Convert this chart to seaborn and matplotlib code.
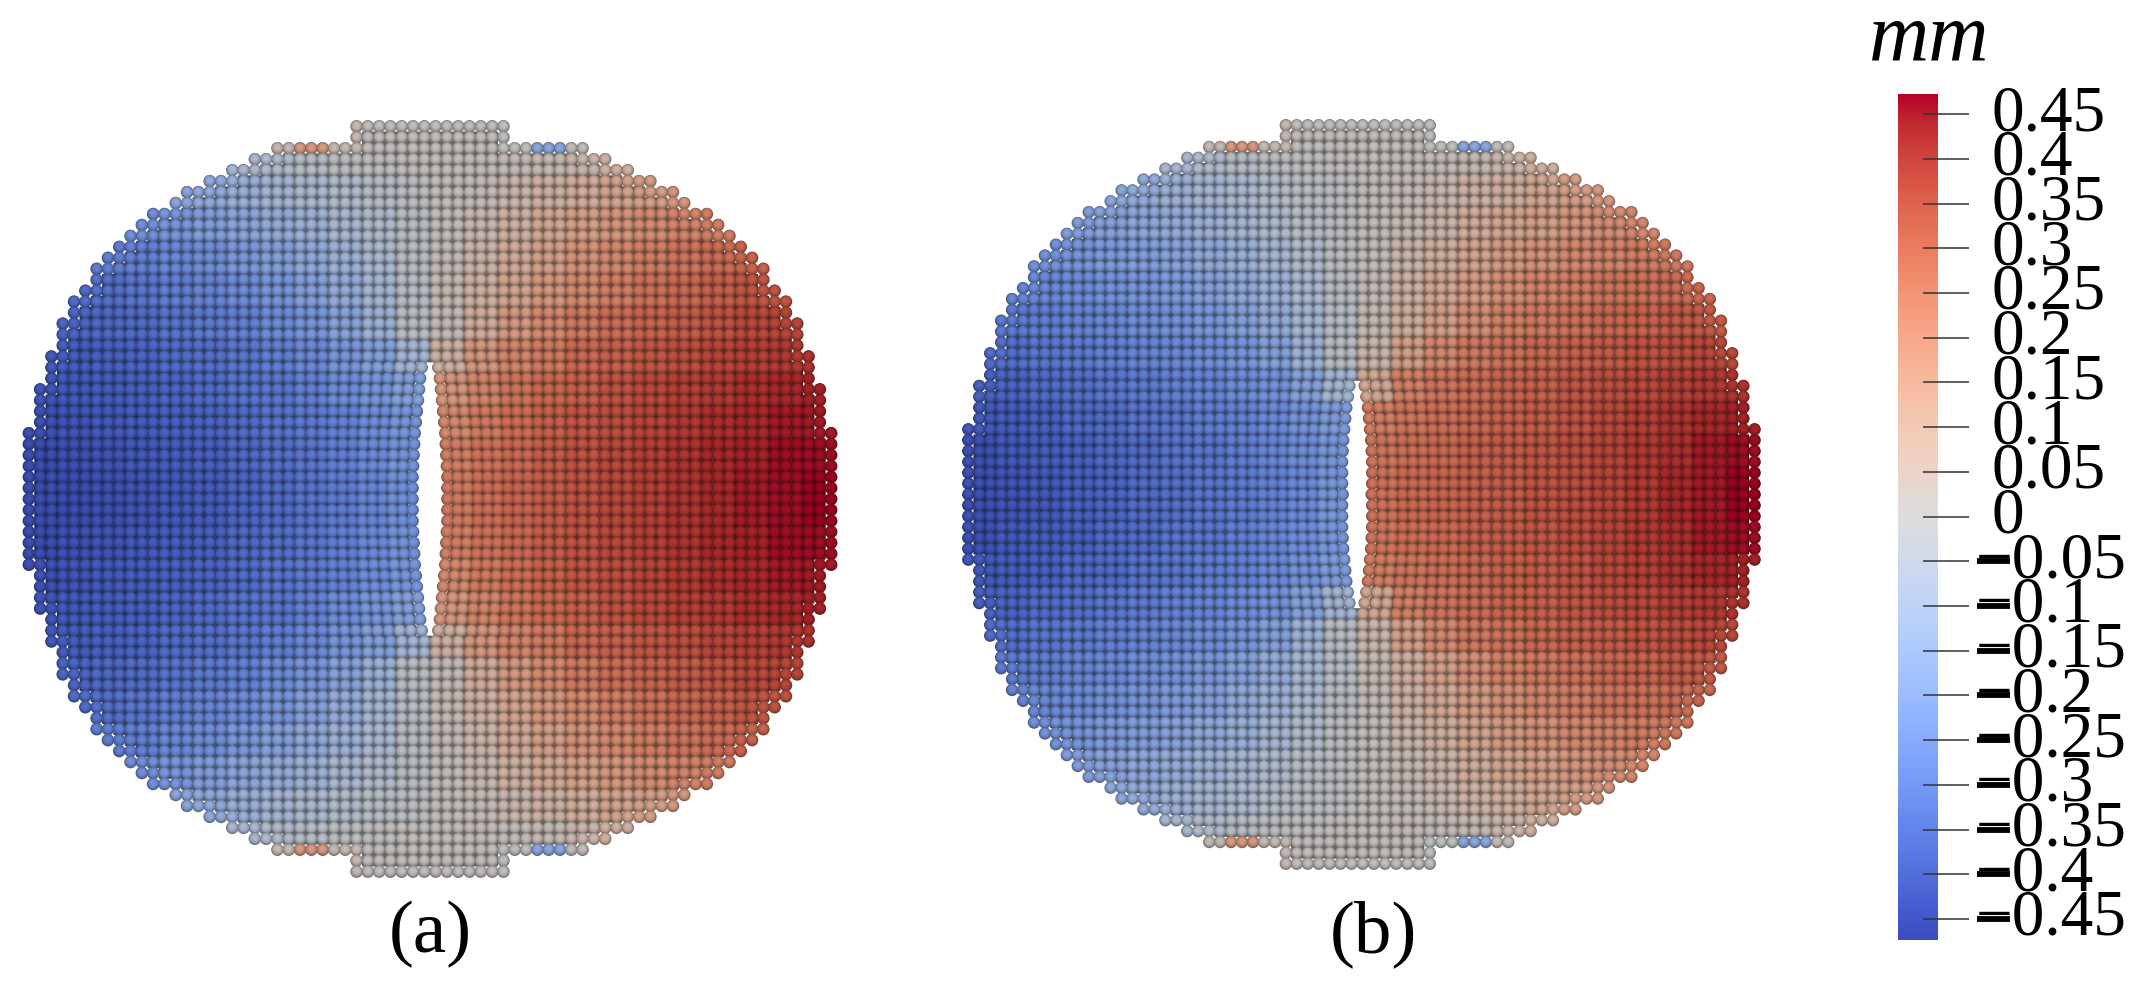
"""Displacement field of the notched disc, particle view with a colour scale."""
import matplotlib.pyplot as plt
import matplotlib.cm as cm
from matplotlib.colors import ListedColormap, Normalize
import numpy as np
import pandas as pd
import seaborn as sns

# particles per side of the centre line, top row down to the middle row
half_cols = [7, 7, 14, 16, 18, 20, 22, 23, 25, 26, 27, 28, 29, 30, 30, 31, 32, 32,
             33, 33, 33, 34, 34, 34, 35, 35, 35, 35, 36, 36, 36, 36, 36, 36, 36]

# displacement (mm): one line per band of 3 rows away from the middle, one value per band of 3 columns
u_a = [
    [-.44, -.44, -.43, -.42, -.41, -.40, -.38, -.36, -.34, -.32, -.29, -.26, .26, .29, .31, .33, .35, .37, .39, .41, .43, .45, .46, .47],
    [-.44, -.43, -.42, -.41, -.40, -.39, -.37, -.35, -.33, -.31, -.28, -.25, .25, .28, .30, .33, .35, .37, .39, .41, .43, .44, .46, .46],
    [-.43, -.42, -.41, -.40, -.39, -.38, -.36, -.34, -.32, -.30, -.27, -.24, .22, .26, .29, .32, .34, .36, .38, .40, .42, .43, .45, .45],
    [-.42, -.41, -.40, -.39, -.38, -.36, -.34, -.33, -.30, -.27, -.24, -.20, .18, .23, .27, .30, .32, .35, .37, .39, .40, .42, .43, .44],
    [-.41, -.40, -.39, -.38, -.36, -.35, -.33, -.31, -.28, -.24, -.20, -.10, .08, .18, .23, .26, .30, .32, .34, .36, .38, .39, .40, .41],
    [-.39, -.38, -.37, -.36, -.34, -.32, -.30, -.27, -.24, -.19, -.12, -.02, .02, .10, .17, .22, .26, .29, .31, .33, .35, .37, .38, .39],
    [-.36, -.36, -.35, -.33, -.31, -.29, -.27, -.24, -.20, -.15, -.09, -.03, .03, .08, .13, .18, .22, .25, .28, .30, .32, .34, .35, .36],
    [-.32, -.32, -.31, -.30, -.28, -.26, -.23, -.20, -.16, -.12, -.07, -.02, .02, .06, .11, .15, .19, .22, .25, .27, .29, .31, .32, .32],
    [-.27, -.27, -.27, -.26, -.24, -.21, -.18, -.15, -.12, -.08, -.05, -.02, .01, .04, .08, .12, .15, .18, .21, .23, .25, .27, .27, .27],
    [-.20, -.20, -.20, -.20, -.18, -.16, -.13, -.10, -.07, -.05, -.03, -.01, .01, .02, .05, .08, .10, .13, .15, .18, .20, .20, .20, .20],
    [-.08, -.08, -.08, -.08, -.08, -.08, -.08, -.05, -.03, -.01, .00, .01, .01, .02, .02, .03, .05, .08, .08, .08, .08, .08, .08, .08],
    [.01, .01, .01, .01, .01, .01, .01, .03, .17, .03, .01, .01, .01, .01, .00, -.18, .02, .01, .01, .01, .01, .01, .01, .01],
]
u_b = [
    [-.43, -.42, -.41, -.39, -.38, -.36, -.35, -.33, -.32, -.30, -.28, -.24, .28, .30, .31, .32, .33, .35, .36, .38, .40, .43, .45, .47],
    [-.43, -.41, -.40, -.39, -.37, -.36, -.34, -.33, -.31, -.29, -.27, -.24, .27, .29, .30, .32, .33, .34, .36, .38, .40, .42, .45, .46],
    [-.41, -.40, -.39, -.37, -.36, -.34, -.33, -.31, -.30, -.28, -.25, -.22, .25, .27, .29, .30, .32, .33, .35, .37, .39, .41, .43, .44],
    [-.39, -.38, -.36, -.35, -.33, -.32, -.30, -.29, -.27, -.25, -.20, -.10, .12, .24, .27, .29, .31, .32, .34, .36, .37, .39, .40, .41],
    [-.36, -.35, -.33, -.32, -.30, -.29, -.28, -.26, -.24, -.20, -.12, -.02, .05, .15, .22, .26, .28, .30, .32, .33, .35, .36, .37, .37],
    [-.33, -.32, -.31, -.29, -.28, -.26, -.25, -.23, -.20, -.15, -.09, -.03, .03, .09, .15, .20, .24, .26, .28, .30, .31, .33, .33, .34],
    [-.30, -.29, -.28, -.27, -.25, -.24, -.22, -.20, -.16, -.12, -.07, -.02, .02, .07, .12, .16, .20, .23, .25, .27, .28, .29, .30, .30],
    [-.27, -.26, -.25, -.24, -.22, -.21, -.19, -.16, -.13, -.09, -.05, -.01, .01, .05, .09, .13, .17, .19, .22, .23, .25, .26, .27, .27],
    [-.23, -.22, -.22, -.21, -.19, -.17, -.15, -.12, -.09, -.06, -.03, -.01, .01, .03, .06, .10, .13, .15, .18, .20, .22, .23, .23, .23],
    [-.18, -.18, -.18, -.18, -.17, -.15, -.12, -.09, -.07, -.04, -.02, -.01, .01, .02, .04, .07, .09, .12, .15, .17, .18, .18, .18, .18],
    [-.08, -.08, -.08, -.08, -.08, -.08, -.08, -.05, -.03, -.01, .00, .01, .01, .02, .02, .03, .05, .08, .08, .08, .08, .08, .08, .08],
    [.01, .01, .01, .01, .01, .01, .01, .03, .17, .03, .01, .01, .01, .01, .00, -.18, .02, .01, .01, .01, .01, .01, .01, .01],
]

# crack opening in particle widths, from the middle row outwards
crack_a = [2.2, 2.2, 2.2, 2.1, 2.0, 1.9, 1.8, 1.6, 1.4, 1.2, 1.0, .8, .5]
crack_b = [1.7, 1.8, 1.8, 1.8, 1.7, 1.6, 1.4, 1.2, 1.0, .7, .4]

tick_values = [.45, .4, .35, .3, .25, .2, .15, .1, .05, 0,
               -.05, -.1, -.15, -.2, -.25, -.3, -.35, -.4, -.45]
tick_labels = ["0.45", "0.4", "0.35", "0.3", "0.25", "0.2", "0.15", "0.1", "0.05", "0",
               "\u22120.05", "\u22120.1", "\u22120.15", "\u22120.2", "\u22120.25",
               "\u22120.3", "\u22120.35", "\u22120.4", "\u22120.45"]
panel_labels = ["(a)", "(b)"]

W, H = 2149, 984


def particles(table, crack, cx, cy, pitch_left, pitch_right, pitch_y):
    rows = half_cols + half_cols[-2::-1]
    mid = len(half_cols) - 1
    out = []
    for r, n in enumerate(rows):
        d = abs(r - mid)
        opening = crack[d] if d < len(crack) else 0
        line = table[11] if d >= 32 else table[min(d // 3, 10)]
        # the particles on the rim keep their round outline
        reach = min(n, rows[max(r - 1, 0)], rows[min(r + 1, len(rows) - 1)]) - 1
        for c in np.arange(-n + 0.5, n):
            band = int(np.clip(np.floor(c / 3) + 12, 0, 23))
            shift = np.sign(c) * opening / 2 * max(0, 1 - abs(c) / 10)
            pitch = pitch_left if c < 0 else pitch_right
            inner = abs(c) < reach and not (opening > 0 and abs(c) < 1) and 0 < r < len(rows) - 1
            out.append((cx + (c + shift) * pitch, cy + (r - mid) * pitch_y, line[band], inner))
    return pd.DataFrame(out, columns=["x", "y", "u", "inner"])


sns.set_theme(style="white")
plt.rcParams["font.family"] = ["Liberation Serif", "DejaVu Serif"]

cmap = sns.color_palette("coolwarm", as_cmap=True)
norm = Normalize(-0.4735, 0.4725)
table_rgb = cmap(np.linspace(0, 1, 256))[:, :3]
# shade, diameter in pitches, lift in pitches, marker
layers = [(0.46, 1.04, 0.0, "s"), (0.52, 1.12, 0.0, "o"), (0.64, 1.02, -0.03, "o"),
          (0.74, 0.88, -0.06, "o"), (0.81, 0.70, -0.08, "o"), (0.86, 0.46, -0.10, "o")]

fig = plt.figure(figsize=(W / 100, H / 100), dpi=100)
ax = fig.add_axes([0, 0, 1, 1])

for df, pitch in [(particles(u_a, crack_a, 430, 499, 11.3, 11.3, 10.96), 11.2),
                  (particles(u_b, crack_b, 1357, 494.5, 10.95, 11.2, 10.86), 11.0)]:
    for shade, size, lift, marker in layers:
        d_pt = pitch * size * 0.72
        part = df[df["inner"]] if marker == "s" else df
        sns.scatterplot(data=part.assign(y=part["y"] + lift * pitch), x="x", y="y", hue="u",
                        palette=ListedColormap(table_rgb * shade), hue_norm=norm, marker=marker,
                        s=d_pt ** 2, linewidth=0, legend=False, snap=False, ax=ax)
ax.set_xlim(0, W)
ax.set_ylim(H, 0)
ax.axis("off")

for label, x in zip(panel_labels, [430, 1373]):
    ax.text(x, 952, label, fontsize=54, ha="center", va="baseline", color="black")
ax.text(1869, 60, "mm", fontsize=60, style="italic", ha="left", va="baseline", color="black")

# colour scale
cax = fig.add_axes([1898 / W, 1 - 940 / H, 40 / W, 846 / H])
cb = fig.colorbar(cm.ScalarMappable(norm=norm, cmap=cmap), cax=cax)
cb.outline.set_visible(False)
cb.set_ticks(tick_values)
cb.set_ticklabels([])
cax.tick_params(length=0)
cax.set_xlim(0, 1)
cax.hlines(tick_values, 0.625, 1.775, color="#333333", lw=1.1, clip_on=False)
for v, label in zip(tick_values, tick_labels):
    neg = label.startswith("\u2212")
    cax.annotate(label, xy=(1, v), xycoords=("axes fraction", "data"),
                 xytext=(38 if neg else 54, -16), textcoords="offset pixels",
                 fontsize=47, ha="left", va="baseline", color="black", annotation_clip=False)
    if neg:
        # the dash of the scale is much heavier than the serif minus
        cax.hlines(v, 1.975, 2.8, color="black", lw=4.2, clip_on=False)

fig.savefig("out.png", dpi=100)
